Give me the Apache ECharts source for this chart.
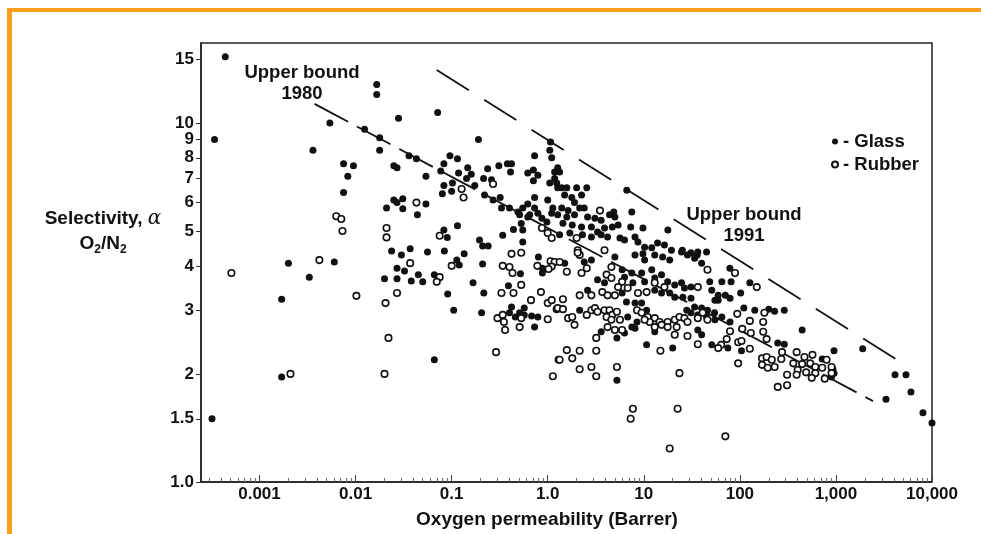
<!DOCTYPE html>
<html>
<head>
<meta charset="utf-8">
<script src="https://cdn.jsdelivr.net/npm/echarts@6/dist/echarts.min.js"></script>
<style>
  html, body { margin: 0; padding: 0; background: #fff; }
  #chart { width: 981px; height: 534px; }
</style>
</head>
<body>
<div id="chart"></div>
<script>
// axis ticks
const xTicks = [0.001, 0.01, 0.1, 1, 10, 100, 1000, 10000]
const xTickLabels = ['0.001', '0.01', '0.1', '1.0', '10', '100', '1,000', '10,000']
const xMinorSteps = [2, 3, 4, 5, 6, 7, 8, 9]
const yTicks = [1, 1.5, 2, 3, 4, 5, 6, 7, 8, 9, 10, 15]
const yTickLabels = ['1.0', '1.5', '2', '3', '4', '5', '6', '7', '8', '9', '10', '15']

// upper bounds [permeability, selectivity]
const bound1980 = [[0.00374, 11.3], [2430, 1.68]]
const bound1991 = [[0.07, 14.05], [4300, 2.19]]

// glassy polymers [O2 permeability (Barrer), O2/N2 selectivity]
const glassPoints = [
  [0.00044, 15.3], [0.00034, 9.0], [0.00032, 1.5], [0.0017, 3.23], [0.0017, 1.96], [0.002, 4.07],
  [0.0033, 3.72], [0.0036, 8.4], [0.0054, 10], [0.006, 4.1], [0.0075, 7.7], [0.0095, 7.6],
  [0.0083, 7.1], [0.0075, 6.4], [0.0166, 12.8], [0.0166, 12.0], [0.0124, 9.6], [0.0178, 9.1],
  [0.0178, 8.4], [0.028, 10.3], [0.025, 7.6], [0.027, 7.5], [0.025, 6.1], [0.027, 6.0],
  [0.021, 5.8], [0.0237, 4.4], [0.027, 3.94], [0.027, 3.68], [0.02, 3.68],
  [0.0715, 10.7], [0.19, 9.0], [0.036, 8.1], [0.043, 7.95], [0.077, 7.35], [0.083, 7.7],
  [0.096, 8.1], [0.115, 7.95], [0.054, 7.1], [0.118, 7.25], [0.147, 7.5], [0.16, 7.2],
  [0.143, 7.0], [0.237, 7.45], [0.215, 7.0], [0.26, 6.95], [0.31, 7.6], [0.38, 7.7],
  [0.42, 7.7], [0.41, 7.3], [0.083, 6.7], [0.102, 6.8], [0.08, 6.35], [0.1, 6.45],
  [0.174, 6.7], [0.22, 6.3], [0.27, 6.1], [0.32, 6.2], [0.031, 6.15], [0.031, 5.77],
  [0.054, 5.95], [0.044, 5.55], [0.33, 5.8], [0.4, 5.8], [0.49, 5.65], [0.55, 5.8],
  [0.51, 5.55], [0.62, 5.95], [0.73, 5.8], [0.65, 5.55], [0.79, 5.6], [0.73, 6.2],
  [1.0, 6.1], [1.13, 5.8], [0.62, 5.47], [0.87, 5.43], [1.1, 5.6], [0.98, 5.3],
  [0.71, 6.9], [1.05, 6.8], [1.18, 7.0], [1.27, 6.6], [0.62, 7.25], [0.71, 7.4],
  [0.79, 7.15], [0.73, 8.1], [1.05, 8.4], [1.1, 8.0], [1.18, 7.3], [1.07, 8.85],
  [0.53, 5.25], [0.44, 5.05], [0.55, 5.03], [0.34, 4.87], [0.09, 4.8], [0.115, 5.17],
  [0.083, 5.03], [0.195, 4.72], [0.21, 4.54], [0.24, 4.54], [0.03, 4.29], [0.037, 4.46],
  [0.056, 4.37], [0.084, 4.4], [0.135, 4.32], [0.55, 4.66],
  [0.0323, 3.87], [0.038, 3.63], [0.045, 3.78], [0.05, 3.61], [0.066, 3.78], [0.12, 4.02],
  [0.113, 4.15], [0.21, 4.05], [0.167, 3.59], [0.091, 3.34], [0.216, 3.36], [0.105, 3.01],
  [0.205, 2.96], [0.066, 2.19], [0.52, 3.8], [0.8, 4.23], [0.88, 3.94], [0.88, 3.82],
  [0.39, 3.52], [0.42, 3.07], [0.4, 2.96], [0.46, 2.88], [0.51, 2.96], [0.57, 3.05],
  [0.57, 2.92], [0.68, 2.9], [0.79, 2.88], [0.73, 2.7],
  [6.65, 6.5], [7.5, 5.65], [9.8, 5.1], [7.3, 5.13], [17.8, 5.03], [4.87, 5.65],
  [5.4, 5.2], [1.27, 7.5], [1.33, 7.3], [1.24, 6.8], [1.4, 6.6], [1.58, 6.6],
  [2.0, 6.6], [2.55, 6.6], [1.5, 6.3], [1.78, 6.2], [2.25, 6.3], [1.9, 6.0],
  [1.4, 5.8], [1.63, 5.7], [2.15, 5.8], [2.4, 5.8], [1.27, 5.55], [1.58, 5.47],
  [1.9, 5.55], [2.6, 5.47], [3.1, 5.43], [3.6, 5.36], [4.4, 5.55], [5.0, 5.47],
  [1.44, 5.26], [1.8, 5.2], [2.25, 5.13], [2.85, 5.13], [3.3, 4.97], [3.9, 5.1],
  [4.7, 5.13], [1.33, 4.88], [1.7, 4.94], [2.3, 4.88], [2.85, 4.81], [3.6, 4.88],
  [4.2, 4.81], [5.65, 4.78], [6.3, 4.72], [8.1, 4.81], [8.7, 4.66], [10.2, 4.51],
  [12.1, 4.49], [13.9, 4.63], [16.4, 4.57], [19.4, 4.42], [25.2, 4.42], [31, 4.35], [36, 4.29],
  [5.0, 4.23], [8.1, 4.29], [9.8, 4.32], [10.2, 4.15], [13, 4.29], [15.7, 4.23],
  [18.6, 4.15], [24.7, 4.37], [28.5, 4.29], [33.8, 4.2], [36.5, 4.37], [40, 4.07],
  [45, 4.37], [48.6, 3.61], [51, 3.42], [59.5, 3.21], [3.3, 3.66], [3.9, 3.59],
  [5.95, 3.9], [6.3, 3.72], [7.5, 3.82], [7.7, 3.59], [9.5, 3.82], [10.2, 3.61],
  [12.1, 3.9], [13, 3.7], [15.3, 3.78], [17.7, 3.61], [21, 3.54], [24.7, 3.59],
  [26.5, 3.47], [31, 3.49], [13, 3.42], [15.3, 3.36], [18.6, 3.36], [21, 3.27],
  [25.5, 3.27], [31, 3.25], [33.8, 3.07], [40, 3.05], [46, 3.01], [54.5, 2.96],
  [28, 3.01], [31, 2.96], [36.5, 2.92], [45, 2.88], [5.95, 3.36], [6.6, 3.17],
  [8.1, 3.15], [9.5, 3.15], [10.7, 3.01], [6.8, 2.88], [8.5, 2.79], [7.5, 2.7],
  [6.3, 2.6], [3.6, 2.62], [5.25, 2.52], [8.1, 2.68], [13, 2.62], [10.7, 2.41],
  [20, 2.36], [36.5, 2.65], [40, 2.57], [51, 2.41], [2.15, 3.01], [2.6, 3.42],
  [2.4, 4.1], [1.5, 4.07], [2.85, 4.15], [5.25, 1.92],
  [78.7, 3.94], [65, 3.61], [81, 3.61], [127, 3.59], [102, 3.36], [59.5, 3.31],
  [70.6, 3.31], [79, 3.25], [55, 3.21], [110, 3.05], [143, 3.01], [200, 3.03],
  [230, 2.99], [290, 3.01], [65, 2.88], [79, 2.79], [55, 2.83], [445, 2.65],
  [75, 2.36], [104, 2.32], [248, 2.44], [290, 2.42], [955, 2.32], [1900, 2.35],
  [720, 2.2], [930, 2.06], [955, 2.01], [900, 1.96], [4120, 1.99], [5360, 1.99],
  [3320, 1.7], [6040, 1.78], [8050, 1.56], [10000, 1.46]
]

// rubbery polymers
const rubberPoints = [
  [0.0063, 5.5], [0.0071, 5.4], [0.0073, 5.0], [0.021, 5.1], [0.021, 4.8], [0.00051, 3.82],
  [0.0042, 4.15], [0.0102, 3.3], [0.0205, 3.15], [0.022, 2.52], [0.0021, 2.0], [0.02, 2.0],
  [0.027, 3.36],
  [0.27, 6.76], [0.127, 6.55], [0.133, 6.2], [0.043, 6.0], [0.87, 5.1], [1.0, 4.94],
  [1.1, 4.78], [0.075, 4.85], [0.42, 4.32], [0.53, 4.35],
  [0.037, 4.07], [0.075, 3.72], [0.07, 3.61], [0.1, 4.0], [0.34, 4.0], [0.4, 3.97],
  [0.43, 3.82], [0.78, 4.0], [1.07, 4.12], [1.18, 4.1], [1.1, 3.98], [1.02, 3.92],
  [0.53, 3.54], [0.33, 3.36], [0.44, 3.36], [0.85, 3.38], [0.67, 3.21], [1.0, 3.15],
  [1.1, 3.21], [1.24, 3.03], [0.3, 2.86], [0.34, 2.92], [0.35, 2.79], [0.36, 2.65],
  [0.53, 2.86], [0.51, 2.7], [1.0, 2.84], [0.29, 2.3], [1.3, 2.19], [1.13, 1.97],
  [3.5, 5.7], [3.9, 4.42], [2.0, 4.78], [2.05, 4.42], [2.15, 4.29],
  [2.05, 4.35], [1.33, 4.1], [1.58, 3.85], [2.25, 3.82], [2.55, 3.94], [4.6, 3.97],
  [4.1, 3.78], [4.6, 3.7], [5.95, 3.61], [5.4, 3.49], [6.8, 3.47], [3.7, 3.38],
  [4.2, 3.31], [5.0, 3.31], [2.15, 3.31], [2.85, 3.31], [1.44, 3.23], [1.27, 3.05],
  [1.44, 3.03], [1.63, 2.86], [1.9, 2.74], [1.8, 2.88], [2.55, 2.92], [2.85, 3.01],
  [3.1, 3.05], [3.3, 2.98], [3.9, 3.01], [4.4, 3.01], [4.7, 2.92], [5.25, 2.98],
  [4.1, 2.88], [4.6, 2.83], [5.65, 2.83], [4.2, 2.7], [5.0, 2.65], [5.95, 2.65],
  [3.2, 2.52], [1.58, 2.33], [2.15, 2.32], [3.2, 2.32], [1.8, 2.21], [1.33, 2.19],
  [2.15, 2.06], [2.85, 2.09], [3.2, 1.97], [5.25, 2.09], [8.5, 3.01], [9.5, 2.96],
  [11, 2.88], [13, 2.86], [14.6, 2.79], [17.7, 2.79], [21, 2.83], [23.5, 2.88],
  [26.5, 2.86], [11.5, 2.79], [13, 2.7], [15.3, 2.74], [17.7, 2.7], [22, 2.7],
  [10.2, 2.83], [8.7, 3.36], [10.7, 3.38], [13, 3.59], [16.4, 3.49], [36.5, 3.49],
  [46, 3.9], [41, 2.96], [46, 2.83], [36.5, 2.86], [28.5, 2.79], [21, 2.57],
  [28.5, 2.55], [36.5, 2.42], [14.9, 2.32], [23.5, 2.01], [7.7, 1.6], [7.3, 1.5],
  [22.5, 1.6], [18.6, 1.24],
  [89, 3.82], [150, 3.49], [94, 2.94], [127, 2.81], [180, 2.96], [175, 2.79],
  [106, 2.67], [130, 2.6], [175, 2.62], [79, 2.63], [73, 2.5], [190, 2.5],
  [64, 2.41], [96, 2.45], [104, 2.47], [59.5, 2.36], [127, 2.35], [170, 2.21],
  [190, 2.23], [215, 2.19], [170, 2.12], [195, 2.08], [230, 2.09], [270, 2.2],
  [275, 2.3], [390, 2.3], [470, 2.23], [570, 2.26], [360, 2.14], [445, 2.13],
  [540, 2.14], [610, 2.09], [400, 2.05], [490, 2.02], [610, 2.01], [720, 2.08],
  [800, 2.19], [900, 2.09], [900, 2.01], [765, 1.94], [560, 1.95], [390, 1.99],
  [310, 1.99], [248, 1.84], [310, 1.86], [96, 2.14], [70.6, 1.34]
]

const ink = '#111'
const font = 'Liberation Sans, Arial, Helvetica, sans-serif'

function labelFor(ticks, labels) {
  return (v) => {
    const i = ticks.findIndex((t) => Math.abs(Math.log10(t) - Math.log10(v)) < 1e-6)
    return i >= 0 ? labels[i] : ''
  }
}

const xMinor = []
xTicks.forEach((d) => xMinorSteps.forEach((m) => xMinor.push(d * m / 10)))
xMinor.push(0.0003, 0.0004, 0.0005, 0.0006, 0.0007, 0.0008, 0.0009)

const xMin = 0.000246
const xMax = 10000

const chart = echarts.init(document.getElementById('chart'))
chart.setOption({
  animation: false,
  backgroundColor: '#fff',
  grid: { left: 201, right: 49, top: 43, bottom: 52, show: true, borderColor: '#222', borderWidth: 1.5 },
  legend: {
    data: ['Glass', 'Rubber'],
    orient: 'vertical',
    left: 826,
    top: 127,
    itemWidth: 6,
    itemHeight: 6,
    itemGap: 4,
    icon: 'circle',
    formatter: (name) => '- ' + name,
    textStyle: { fontFamily: font, fontWeight: 'bold', fontSize: 18.5, color: ink }
  },
  xAxis: [
    {
      type: 'log', min: xMin, max: xMax,
      axisLine: { show: true, lineStyle: { color: '#222', width: 1.5 } },
      axisTick: { show: true, inside: true, length: 4, customValues: xMinor, lineStyle: { color: '#666' } },
      axisLabel: {
        customValues: xTicks, formatter: labelFor(xTicks, xTickLabels), margin: 4,
        fontFamily: font, fontWeight: 'bold', fontSize: 17, color: ink
      },
      splitLine: { show: false }
    },
    {
      type: 'log', min: xMin, max: xMax, position: 'bottom',
      axisLine: { show: false },
      axisTick: { show: true, inside: true, length: 7, customValues: xTicks, lineStyle: { color: '#444' } },
      axisLabel: { show: false },
      splitLine: { show: false }
    }
  ],
  yAxis: {
    type: 'log', min: 1, max: 16.7,
    axisLine: { show: true, lineStyle: { color: '#222', width: 1.5 } },
    axisTick: { show: true, inside: false, length: 5, customValues: yTicks, lineStyle: { color: '#333' } },
    axisLabel: {
      customValues: yTicks, formatter: labelFor(yTicks, yTickLabels), margin: 7,
      fontFamily: font, fontWeight: 'bold', fontSize: 17, color: ink
    },
    splitLine: { show: false }
  },
  series: [
    {
      name: 'Upper bound 1980', type: 'line', data: bound1980, symbol: 'none', silent: true, z: 1,
      lineStyle: { color: ink, width: 1.8, type: [38, 10] }
    },
    {
      name: 'Upper bound 1991', type: 'line', data: bound1991, symbol: 'none', silent: true, z: 1,
      lineStyle: { color: ink, width: 1.8, type: [38, 18] }
    },
    {
      name: 'Glass', type: 'scatter', data: glassPoints, symbol: 'circle', symbolSize: 7, z: 3,
      itemStyle: { color: ink, opacity: 1 }
    },
    {
      name: 'Rubber', type: 'scatter', data: rubberPoints, symbol: 'circle', symbolSize: 6.5, z: 4,
      itemStyle: { color: '#fff', borderColor: ink, borderWidth: 1.6, opacity: 1 }
    }
  ],
  graphic: [
    { type: 'rect', shape: { x: 7, y: 8, width: 974, height: 4 }, style: { fill: '#F99D1C' } },
    { type: 'rect', shape: { x: 7, y: 8, width: 5, height: 526 }, style: { fill: '#F99D1C' } },
    {
      type: 'text', x: 103, y: 231,
      style: {
        text: '{t|Selectivity, }{a|α}\n{t|O}{s|2}{t|/N}{s|2}',
        align: 'center', verticalAlign: 'middle', fill: ink,
        rich: {
          t: { fontFamily: font, fontWeight: 'bold', fontSize: 19, lineHeight: 25, fill: ink },
          a: { fontFamily: 'DejaVu Serif', fontStyle: 'italic', fontSize: 20, lineHeight: 25, fill: ink },
          s: { fontFamily: font, fontWeight: 'bold', fontSize: 12, verticalAlign: 'bottom', fill: ink }
        }
      }
    },
    {
      type: 'text', x: 547, y: 520,
      style: {
        text: 'Oxygen permeability (Barrer)', align: 'center', verticalAlign: 'middle',
        fontFamily: font, fontWeight: 'bold', fontSize: 19, fill: ink
      }
    },
    {
      type: 'text', x: 302, y: 83,
      style: {
        text: 'Upper bound\n1980', align: 'center', verticalAlign: 'middle', lineHeight: 21,
        fontFamily: font, fontWeight: 'bold', fontSize: 18.5, fill: ink
      }
    },
    {
      type: 'text', x: 744, y: 225,
      style: {
        text: 'Upper bound\n1991', align: 'center', verticalAlign: 'middle', lineHeight: 21,
        fontFamily: font, fontWeight: 'bold', fontSize: 18.5, fill: ink
      }
    }
  ]
})
</script>
</body>
</html>
